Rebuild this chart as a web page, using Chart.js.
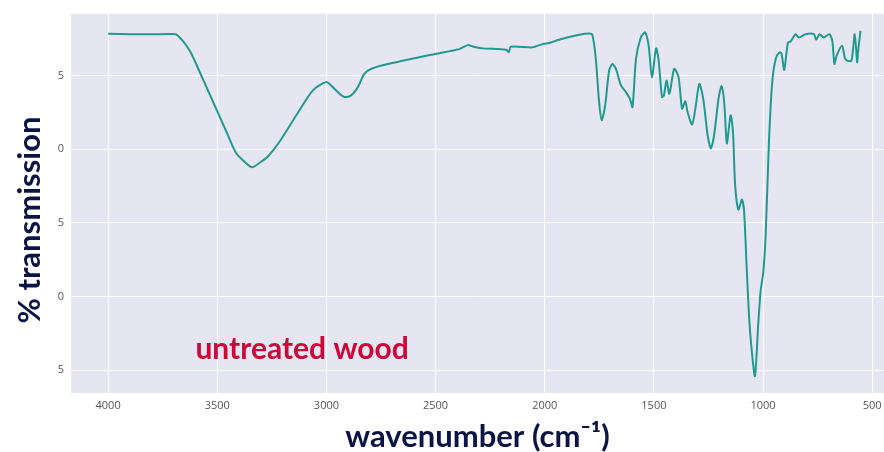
<!DOCTYPE html>
<html lang="en">
<head>
  <meta charset="UTF-8" />
  <title>FTIR untreated wood</title>
  <script src="https://cdn.jsdelivr.net/npm/chart.js"></script>
  <style>
    html, body {
      margin: 0;
      padding: 0;
      background: #fff;
    }
    #wrap {
      width: 884px;
      height: 452px;
    }
  </style>
</head>
<body>
  <div id="wrap"><canvas id="ftirChart" width="884" height="452"></canvas></div>

  <script>
    // spectrum (cm-1, % transmission)
    const wavenumbers = [
      4000, 3900, 3800, 3720, 3687, 3626, 3580, 3519, 3458, 3413, 3367, 3339, 3298, 3268,
      3215, 3138, 3062, 3001, 2971, 2940, 2917, 2887, 2856, 2826, 2788, 2681, 2502, 2391,
      2353, 2330, 2284, 2177, 2165, 2155, 2056, 2010, 1980, 1935, 1842, 1797, 1782, 1766,
      1751, 1739, 1723, 1705, 1690, 1674, 1651, 1628, 1610, 1598, 1582, 1560, 1540, 1524,
      1509, 1490, 1479, 1463, 1454, 1442, 1429, 1407, 1387, 1371, 1356, 1346, 1325, 1310,
      1292, 1274, 1254, 1239, 1224, 1204, 1190, 1178, 1166, 1155, 1148, 1137, 1128, 1113,
      1097, 1087, 1075, 1064, 1052, 1037, 1022, 1011, 999, 988, 973, 958, 942, 924,
      915, 903, 886, 874, 851, 836, 805, 767, 757, 741, 722, 696, 683, 673,
      663, 638, 626, 615, 595, 580, 569, 565, 554
    ];
    const transmission = [
      77.83, 77.80, 77.79, 77.81, 77.78, 76.68, 75.22, 73.20, 71.18, 69.72, 69.04, 68.77, 69.16, 69.50,
      70.50, 72.30, 73.99, 74.55, 74.21, 73.76, 73.54, 73.65, 74.21, 75.11, 75.49, 75.90, 76.46, 76.79,
      77.06, 76.97, 76.84, 76.75, 76.57, 76.95, 76.91, 77.13, 77.20, 77.43, 77.76, 77.85, 77.76, 76.12,
      73.20, 71.97, 72.98, 75.34, 75.78, 75.45, 74.33, 73.87, 73.42, 72.86, 76.12, 77.58, 77.92, 77.02,
      74.89, 76.84, 76.12, 73.54, 73.65, 74.66, 73.76, 75.45, 74.89, 72.75, 73.25, 72.53, 71.67, 72.75,
      74.43, 73.42, 70.96, 70.05, 70.96, 73.42, 74.28, 73.20, 70.39, 71.63, 72.30, 70.96, 67.59, 65.90,
      66.58, 65.79, 61.97, 58.60, 56.35, 54.60, 58.15, 60.40, 61.63, 64.20, 70.50, 74.55, 76.12, 76.57,
      76.46, 75.38, 77.24, 77.31, 77.80, 77.58, 77.80, 77.80, 77.43, 77.80, 77.58, 77.80, 77.36, 75.78,
      76.35, 77.02, 76.23, 76.01, 76.01, 77.80, 75.90, 76.57, 78.03
    ];

    const xTickValues = [4000, 3500, 3000, 2500, 2000, 1500, 1000, 500];
    const yTickValues = [55, 60, 65, 70, 75];
    // only the last digit of each y label is visible in the source
    const yTickLabels = ['5', '0', '5', '0', '5'];

    const xTitle = 'wavenumber (cm\u207B\u00B9)';
    const yTitle = '% transmission';
    const sampleLabel = 'untreated wood';
    const sampleLabelPos = { x: 3600, y: 56.4 };

    const titleColor = '#0c1445';
    const titleFont = 'Lato, "Open Sans", sans-serif';

    const plotDecor = {
      id: 'plotDecor',
      beforeDraw(chart) {
        const { ctx, chartArea: a } = chart;
        ctx.save();
        ctx.fillStyle = '#e6e6f3';
        ctx.fillRect(a.left, a.top, a.right - a.left, a.bottom - a.top);
        ctx.restore();
      },
      afterDraw(chart) {
        const { ctx, scales } = chart;
        ctx.save();
        // y title sits a bit below the middle of the plot in the source
        ctx.translate(30, 220);
        ctx.rotate(-Math.PI / 2);
        ctx.font = 'bold 31px ' + titleFont;
        ctx.fillStyle = titleColor;
        ctx.textAlign = 'center';
        ctx.textBaseline = 'middle';
        ctx.fillText(yTitle, 0, 0);
        ctx.restore();

        ctx.save();
        ctx.font = 'bold 30px ' + titleFont;
        ctx.fillStyle = '#cc0838';
        ctx.textAlign = 'left';
        ctx.textBaseline = 'middle';
        ctx.fillText(sampleLabel, scales.x.getPixelForValue(sampleLabelPos.x), scales.y.getPixelForValue(sampleLabelPos.y));
        ctx.restore();
      }
    };

    const ctx = document.getElementById('ftirChart').getContext('2d');

    const chart = new Chart(ctx, {
      type: 'line',
      data: {
        datasets: [{
          label: sampleLabel,
          data: wavenumbers.map((w, i) => ({ x: w, y: transmission[i] })),
          borderColor: '#21998e',
          borderWidth: 2,
          pointRadius: 0,
          tension: 0.25,
          fill: false
        }]
      },
      options: {
        responsive: false,
        animation: false,
        layout: { padding: { top: 11, right: 0, left: 0, bottom: 0 } },
        plugins: {
          legend: { display: false },
          tooltip: { enabled: false }
        },
        scales: {
          x: {
            type: 'linear',
            reverse: true,
            min: 446,
            max: 4170,
            afterBuildTicks: axis => { axis.ticks = xTickValues.map(v => ({ value: v })); },
            afterFit: axis => { axis.height = 59; axis.paddingLeft = 0; axis.paddingRight = 0; },
            grid: { color: '#ffffff', lineWidth: 1, drawTicks: false },
            border: { display: false },
            ticks: {
              color: '#555',
              font: { family: '"Open Sans", sans-serif', size: 11 },
              padding: 6,
              maxRotation: 0,
              callback: v => String(v)
            },
            title: {
              display: true,
              text: xTitle,
              color: titleColor,
              font: { family: titleFont, size: 31, weight: 'bold', lineHeight: 1 },
              padding: { top: 0, bottom: 0 }
            }
          },
          y: {
            min: 53.45,
            max: 79.2,
            afterBuildTicks: axis => { axis.ticks = yTickValues.map(v => ({ value: v })); },
            afterFit: axis => { axis.width = 71; },
            grid: { color: '#ffffff', lineWidth: 1, drawTicks: false },
            border: { display: false },
            ticks: {
              color: '#555',
              font: { family: '"Open Sans", sans-serif', size: 11 },
              padding: 7,
              callback: v => yTickLabels[yTickValues.indexOf(v)]
            }
          }
        }
      },
      plugins: [plotDecor]
    });
  </script>
</body>
</html>
